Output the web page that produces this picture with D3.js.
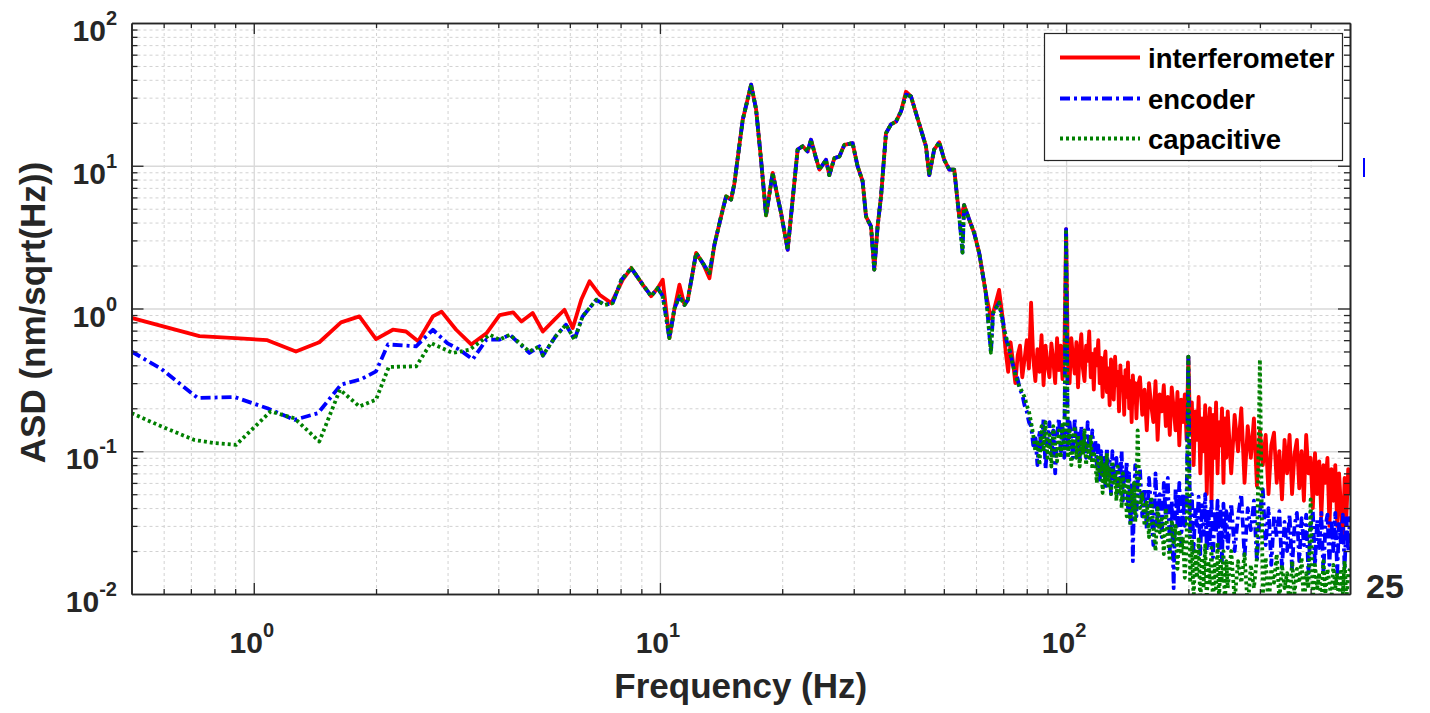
<!DOCTYPE html>
<html>
<head>
<meta charset="utf-8">
<script src="https://cdn.jsdelivr.net/npm/d3@7"></script>
<style>
  html, body { margin: 0; padding: 0; background: #ffffff; }
  svg { display: block; font-family: "Liberation Sans", Arial, Helvetica, sans-serif; font-weight: bold; }
</style>
</head>
<body>
<svg id="chart" width="1430" height="713"></svg>
<script>
// ---------------- series metadata ----------------
const seriesNames  = ["interferometer", "encoder", "capacitive"];
const seriesColors = ["#ff0000", "#0000ff", "#008000"];

// ---------------- low band (0.5 – 9 Hz), per series ----------------
const interfLowF = [0.5, 0.735, 0.9, 1.08, 1.27, 1.45, 1.64, 1.82, 2.0, 2.2, 2.37, 2.54, 2.76, 2.9, 3.15, 3.43, 3.74, 4.03, 4.35, 4.56, 4.86, 5.15, 5.5, 5.82, 6.1, 6.4, 6.71, 7.1, 7.59, 8.1, 8.5, 9.07];
const interfLowV = [0.86, 0.64, 0.62, 0.60, 0.50, 0.58, 0.80, 0.88, 0.61, 0.71, 0.69, 0.59, 0.88, 0.95, 0.71, 0.56, 0.67, 0.90, 0.94, 0.81, 0.93, 0.69, 0.835, 0.98, 0.73, 1.15, 1.55, 1.25, 1.09, 1.59, 1.92, 1.47];

const encLowF = [0.5, 0.59, 0.728, 0.896, 1.08, 1.26, 1.44, 1.64, 1.84, 2.0, 2.14, 2.51, 2.76, 3.0, 3.21, 3.46, 3.74, 4.03, 4.27, 4.77, 5.05, 5.15, 5.54, 5.87, 6.16, 6.45, 6.97, 7.31, 7.65, 8.04, 8.5, 9.07];
const encLowV = [0.50, 0.38, 0.236, 0.24, 0.20, 0.166, 0.185, 0.293, 0.32, 0.363, 0.56, 0.543, 0.71, 0.57, 0.515, 0.44, 0.605, 0.605, 0.655, 0.488, 0.543, 0.467, 0.64, 0.77, 0.605, 0.88, 1.15, 1.06, 1.09, 1.59, 1.92, 1.47];

const capLowF = [0.5, 0.59, 0.714, 0.8, 0.905, 1.1, 1.26, 1.45, 1.63, 1.82, 2.0, 2.15, 2.51, 2.73, 3.09, 3.4, 3.81, 4.03, 4.27, 4.77, 5.05, 5.15, 5.54, 5.87, 6.16, 6.45, 6.97, 7.31, 7.65, 8.04, 8.5, 9.07];
const capLowV = [0.185, 0.15, 0.12, 0.114, 0.111, 0.19, 0.17, 0.117, 0.27, 0.206, 0.23, 0.39, 0.393, 0.573, 0.488, 0.515, 0.655, 0.605, 0.655, 0.50, 0.543, 0.47, 0.64, 0.77, 0.605, 0.88, 1.15, 1.06, 1.09, 1.59, 1.92, 1.47];

// ---------------- resonance band (9 – 68 Hz) ----------------
const midF = [9.33, 9.51, 9.88, 10.16, 10.55, 10.86, 11.17, 11.49, 11.71, 12.28, 12.75, 13.24, 13.62, 14.14, 14.55, 14.97, 15.25, 15.99, 16.77, 17.25, 17.74, 18.25, 18.95, 19.32, 19.87, 20.63, 21.22, 21.83, 22.46, 23.10, 23.55, 24.23, 24.69, 25.64, 26.12, 26.88, 27.65, 28.44, 29.81, 30.67, 31.55, 32.17, 33.09, 33.71, 34.35, 35.02, 36.02, 37.05, 38.12, 39.22, 40.34, 41.50, 42.69, 43.92, 45.18, 46.03, 47.35, 48.72, 50.12, 51.56, 53.04, 54.56, 55.59, 56.1, 57.73, 59.39, 61.1, 63.45, 65.3, 66.1, 68.4];
// encoder and capacitive sensors agree through the resonances
const midSharedV = [1.32, 1.22, 1.39, 1.22, 0.62, 1.0, 1.22, 1.06, 1.15, 2.45, 2.08, 1.77, 2.8, 4.4, 6.1, 5.8, 7.5, 21, 37, 24.8, 11, 4.5, 8.9, 6.8, 4.66, 2.58, 5.8, 13.0, 13.7, 12.6, 15.2, 11.3, 9.4, 11, 8.6, 11.3, 11.6, 14, 14.4, 9.9, 7.8, 4.4, 3.76, 1.87, 3.76, 6.1, 16.9, 19.5, 20.4, 24, 31.5, 30.6, 23.4, 17.9, 13.7, 8.6, 13, 14.6, 11, 9.4, 9.4, 4.4, 2.46, 5.3, 4.2, 3.38, 2.45, 1.28, 0.49, 0.93, 1.1];
const midInterfV = [1.32, 1.22, 1.39, 1.59, 0.62, 1.0, 1.47, 1.06, 1.15, 2.45, 2.08, 1.63, 2.8, 4.4, 6.1, 5.8, 7.5, 21, 37, 24.8, 11, 4.5, 8.9, 6.8, 4.66, 2.58, 5.8, 13.0, 13.7, 12.6, 15.2, 11.3, 9.4, 11, 8.6, 11.3, 11.6, 14, 14.4, 9.9, 7.8, 4.4, 3.76, 1.87, 3.76, 6.1, 16.9, 19.5, 20.4, 24, 33, 30.6, 23.4, 17.9, 13.7, 8.6, 13, 14.6, 11, 9.4, 9.4, 4.4, 4.8, 5.3, 4.2, 3.38, 2.45, 1.28, 0.85, 0.93, 1.35];

// ---------------- noise floor band (70 – 500 Hz) ----------------
const highF = [
  70, 71, 72, 73, 74, 75, 76, 77, 78, 79,
  80, 81, 82, 83, 84, 85, 86, 87, 88, 89,
  90, 91, 92, 93, 94, 95, 96, 97, 98, 99, 100,
  101, 102, 103, 104, 105, 106, 107, 108, 109, 110,
  111, 112, 113, 114, 115, 116, 117, 118, 119, 120,
  121, 122, 123, 124, 125, 126, 127, 128, 129, 130,
  131, 132, 133, 134, 135, 136, 137, 138, 139, 140,
  141, 142, 143, 144, 145, 146, 147, 148, 149, 150,
  152, 154, 156, 158, 160, 162, 164, 166, 168, 170,
  172, 174, 176, 178, 180, 182, 184, 186, 188, 190,
  192, 194, 196, 198, 200, 202, 204, 206, 208, 210,
  212, 214, 216, 218, 220, 222, 224, 226, 228, 230,
  232, 234, 236, 238, 240, 242, 244, 246, 248, 250,
  255, 260, 265, 270, 275, 280, 285, 290, 295, 300,
  305, 310, 315, 320, 325, 330, 335, 340, 345, 350,
  355, 360, 365, 370, 375, 380, 385, 390, 395, 400,
  405, 410, 415, 420, 425, 430, 435, 440, 445, 450,
  455, 460, 465, 470, 475, 480, 485, 490, 495, 500
];
const highInterfV = [
  0.80, 0.50, 0.36, 0.58, 0.42, 0.30, 0.47, 0.55, 0.33, 0.44,
  0.60, 0.38, 1.10, 0.45, 0.31, 0.52, 0.36, 0.65, 0.29, 0.55,
  0.40, 0.33, 0.57, 0.43, 0.30, 0.62, 0.37, 0.55, 0.32, 0.46, 3.6,
  0.42, 0.30, 0.62, 0.45, 0.35, 0.58, 0.28, 0.50, 0.66, 0.38,
  0.31, 0.55, 0.43, 0.69, 0.33, 0.48, 0.27, 0.52, 0.40, 0.60,
  0.30, 0.45, 0.24, 0.41, 0.50, 0.26, 0.38, 0.21, 0.44, 0.32,
  0.23, 0.46, 0.29, 0.36, 0.19, 0.40, 0.27, 0.33, 0.18, 0.37,
  0.24, 0.42, 0.20, 0.31, 0.16, 0.34, 0.25, 0.30, 0.17, 0.28,
  0.33, 0.18, 0.27, 0.14, 0.30, 0.21, 0.16, 0.31, 0.12, 0.25,
  0.19, 0.29, 0.15, 0.24, 0.13, 0.28, 0.20, 0.14, 0.26, 0.11,
  0.23, 0.16, 0.25, 0.12, 0.46, 0.14, 0.22, 0.08, 0.19, 0.12,
  0.24, 0.07, 0.17, 0.10, 0.21, 0.05, 0.15, 0.20, 0.045, 0.18,
  0.09, 0.22, 0.07, 0.16, 0.11, 0.20, 0.06, 0.17, 0.09, 0.19,
  0.07, 0.18, 0.10, 0.20, 0.06, 0.15, 0.09, 0.17, 0.057, 0.14,
  0.08, 0.13, 0.05, 0.11, 0.135, 0.06, 0.10, 0.046, 0.12, 0.07,
  0.13, 0.05, 0.095, 0.12, 0.055, 0.10, 0.045, 0.13, 0.07, 0.09,
  0.04, 0.097, 0.05, 0.085, 0.035, 0.08, 0.06, 0.09, 0.03, 0.075,
  0.045, 0.08, 0.03, 0.07, 0.04, 0.023, 0.065, 0.035, 0.075, 0.05
];
const highEncV = [
  0.80, 0.62, 0.55, 0.48, 0.40, 0.36, 0.32, 0.27, 0.25, 0.21,
  0.19, 0.16, 0.15, 0.11, 0.13, 0.08, 0.14, 0.10, 0.17, 0.075,
  0.12, 0.16, 0.09, 0.14, 0.07, 0.13, 0.17, 0.10, 0.15, 0.09, 3.6,
  0.10, 0.16, 0.12, 0.09, 0.17, 0.11, 0.14, 0.087, 0.15, 0.10,
  0.13, 0.09, 0.16, 0.11, 0.09, 0.14, 0.10, 0.12, 0.08, 0.11,
  0.06, 0.10, 0.07, 0.09, 0.055, 0.105, 0.065, 0.085, 0.05, 0.10,
  0.07, 0.06, 0.09, 0.051, 0.08, 0.065, 0.10, 0.045, 0.075, 0.06,
  0.085, 0.04, 0.07, 0.03, 0.06, 0.017, 0.05, 0.08, 0.035, 0.06,
  0.075, 0.035, 0.055, 0.028, 0.065, 0.04, 0.022, 0.07, 0.03, 0.05,
  0.025, 0.06, 0.035, 0.065, 0.02, 0.045, 0.011, 0.055, 0.03, 0.06,
  0.023, 0.05, 0.03, 0.045, 0.46, 0.025, 0.05, 0.02, 0.04, 0.03,
  0.048, 0.019, 0.042, 0.026, 0.05, 0.02, 0.04, 0.022, 0.047, 0.018,
  0.038, 0.027, 0.045, 0.02, 0.04, 0.017, 0.043, 0.025, 0.038, 0.021,
  0.043, 0.02, 0.035, 0.05, 0.018, 0.04, 0.028, 0.045, 0.017, 0.038,
  0.054, 0.022, 0.04, 0.016, 0.035, 0.025, 0.038, 0.015, 0.032, 0.02,
  0.036, 0.015, 0.03, 0.037, 0.017, 0.034, 0.022, 0.036, 0.014, 0.03,
  0.038, 0.016, 0.033, 0.021, 0.037, 0.014, 0.03, 0.036, 0.016, 0.033,
  0.02, 0.037, 0.014, 0.032, 0.022, 0.036, 0.015, 0.034, 0.02, 0.035
];
const highCapV = [
  0.75, 0.65, 0.56, 0.47, 0.40, 0.34, 0.30, 0.28, 0.26, 0.24,
  0.21, 0.19, 0.16, 0.13, 0.10, 0.12, 0.08, 0.15, 0.10, 0.16,
  0.09, 0.13, 0.078, 0.15, 0.11, 0.085, 0.14, 0.09, 0.16, 0.10, 3.6,
  0.09, 0.14, 0.08, 0.12, 0.15, 0.09, 0.13, 0.078, 0.12, 0.095,
  0.14, 0.08, 0.11, 0.09, 0.13, 0.075, 0.10, 0.085, 0.06, 0.095,
  0.07, 0.09, 0.051, 0.08, 0.06, 0.097, 0.055, 0.075, 0.05, 0.085,
  0.06, 0.07, 0.045, 0.078, 0.05, 0.065, 0.04, 0.07, 0.05, 0.06,
  0.035, 0.065, 0.045, 0.03, 0.055, 0.04, 0.06, 0.032, 0.05, 0.14,
  0.04, 0.05, 0.03, 0.045, 0.025, 0.048, 0.03, 0.02, 0.04, 0.027,
  0.035, 0.019, 0.04, 0.025, 0.017, 0.033, 0.022, 0.03, 0.015, 0.028,
  0.019, 0.025, 0.013, 0.022, 0.46, 0.012, 0.024, 0.009, 0.02, 0.013,
  0.025, 0.008, 0.018, 0.011, 0.022, 0.009, 0.017, 0.012, 0.021, 0.008,
  0.016, 0.011, 0.023, 0.009, 0.018, 0.012, 0.02, 0.008, 0.017, 0.011,
  0.02, 0.009, 0.017, 0.012, 0.019, 0.008, 0.016, 0.011, 0.018, 0.44,
  0.01, 0.018, 0.008, 0.015, 0.012, 0.019, 0.009, 0.016, 0.011, 0.014,
  0.008, 0.017, 0.01, 0.015, 0.012, 0.018, 0.008, 0.014, 0.011, 0.046,
  0.009, 0.016, 0.011, 0.014, 0.008, 0.017, 0.01, 0.015, 0.012, 0.009,
  0.016, 0.011, 0.014, 0.008, 0.015, 0.01, 0.017, 0.009, 0.014, 0.015
];

// ---------------- axis settings ----------------
const xDomain = [0.5, 500];
const yDomain = [0.01, 100];
const xMajor = [1, 10, 100];
const xMajorExp = ["0", "1", "2"];
const yMajor = [0.01, 0.1, 1, 10, 100];
const yMajorExp = ["-2", "-1", "0", "1", "2"];
const xLabel = "Frequency (Hz)";
const yLabel = "ASD (nm/sqrt(Hz))";
const cornerNote = "25";

// ---------------- assemble series ----------------
const zip = (f, v) => f.map((d, i) => [d, v[i]]);
const seriesData = [
  zip(interfLowF, interfLowV).concat(zip(midF, midInterfV), zip(highF, highInterfV)),
  zip(encLowF, encLowV).concat(zip(midF, midSharedV), zip(highF, highEncV)),
  zip(capLowF, capLowV).concat(zip(midF, midSharedV), zip(highF, highCapV))
];
const dashes = [null, "10,4,3,4", "3,3"];
const lineWidth = 3.8;

// ---------------- layout ----------------
const plot = { left: 131.5, right: 1350, top: 23, bottom: 594 };
const svg = d3.select("#chart");
const ink = "#262626";

const x = d3.scaleLog().domain(xDomain).range([plot.left, plot.right]);
const y = d3.scaleLog().domain(yDomain).range([plot.bottom, plot.top]);

const allX = x.ticks().filter(t => t > xDomain[0] && t < xDomain[1]);
const allY = y.ticks().filter(t => t > yDomain[0] && t < yDomain[1]);
const isDecade = t => Math.abs(Math.log10(t) - Math.round(Math.log10(t))) < 1e-9;
const xMinor = allX.filter(t => !isDecade(t));
const yMinor = allY.filter(t => !isDecade(t));
const xMajorIn = xMajor;
const yMajorIn = yMajor.filter(t => t > yDomain[0] && t < yDomain[1]);

const W = plot.right - plot.left, H = plot.bottom - plot.top;

// grid: minor dashed, then major solid
const grid = svg.append("g").attr("class", "grid");
function gridLayer(axis, tr, vals, color, dash, width) {
  const g = grid.append("g").attr("transform", tr)
    .call(axis.tickValues(vals).tickFormat("").tickSizeOuter(0));
  g.select(".domain").remove();
  g.selectAll(".tick line").attr("stroke", color).attr("stroke-width", width)
    .attr("stroke-dasharray", dash);
}
gridLayer(d3.axisBottom(x).tickSize(-H), `translate(0,${plot.bottom})`, xMinor, "#d2d2d2", "3,3", 1);
gridLayer(d3.axisLeft(y).tickSize(-W), `translate(${plot.left},0)`, yMinor, "#d2d2d2", "3,3", 1);
gridLayer(d3.axisBottom(x).tickSize(-H), `translate(0,${plot.bottom})`, xMajorIn, "#d9d9d9", null, 1.3);
gridLayer(d3.axisLeft(y).tickSize(-W), `translate(${plot.left},0)`, yMajorIn, "#d9d9d9", null, 1.3);

// data lines
svg.append("defs").append("clipPath").attr("id", "plotClip")
  .append("rect").attr("x", plot.left).attr("y", plot.top).attr("width", W).attr("height", H);

const line = d3.line().x(d => x(d[0])).y(d => y(d[1]));
const lines = svg.append("g").attr("clip-path", "url(#plotClip)");
seriesData.forEach((data, i) => {
  lines.append("path").datum(data)
    .attr("d", line)
    .attr("fill", "none")
    .attr("stroke", seriesColors[i])
    .attr("stroke-width", lineWidth)
    .attr("stroke-linejoin", "round")
    .attr("stroke-dasharray", dashes[i]);
});

// axes box with inward ticks on all four sides
function tickLayer(axisFn, scale, tr, vals, len) {
  const g = svg.append("g").attr("transform", tr)
    .call(axisFn(scale).tickValues(vals).tickFormat("").tickSize(-len).tickSizeOuter(0));
  g.select(".domain").attr("stroke", ink).attr("stroke-width", 1.6);
  g.selectAll(".tick line").attr("stroke", ink).attr("stroke-width", 1.3);
  return g;
}
[[d3.axisBottom, x, `translate(0,${plot.bottom})`],
 [d3.axisTop, x, `translate(0,${plot.top})`]].forEach(([fn, s, tr]) => {
  tickLayer(fn, s, tr, xMinor, 5);
  tickLayer(fn, s, tr, xMajorIn, 11);
});
[[d3.axisLeft, y, `translate(${plot.left},0)`],
 [d3.axisRight, y, `translate(${plot.right},0)`]].forEach(([fn, s, tr]) => {
  tickLayer(fn, s, tr, yMinor, 6);
  tickLayer(fn, s, tr, yMajorIn, 12);
});

// tick labels (base-10 with superscript exponent)
const tickFont = 30, supFont = 20;
yMajor.forEach((v, i) => {
  const t = svg.append("text")
    .attr("x", 117).attr("y", y(v) + 18)
    .attr("text-anchor", "end").attr("fill", ink)
    .style("font-size", tickFont + "px");
  t.append("tspan").text("10");
  t.append("tspan").attr("dy", -16).style("font-size", supFont + "px").text(yMajorExp[i]);
});
xMajor.forEach((v, i) => {
  const t = svg.append("text")
    .attr("x", x(v) - 2).attr("y", 653)
    .attr("text-anchor", "middle").attr("fill", ink)
    .style("font-size", tickFont + "px");
  t.append("tspan").text("10");
  t.append("tspan").attr("dy", -16).style("font-size", supFont + "px").text(xMajorExp[i]);
});

// axis titles
svg.append("text")
  .attr("x", (plot.left + plot.right) / 2).attr("y", 698)
  .attr("text-anchor", "middle").attr("fill", ink)
  .style("font-size", "35px").text(xLabel);
svg.append("text")
  .attr("transform", `translate(45,${(plot.top + plot.bottom) / 2 + 4}) rotate(-90)`)
  .attr("text-anchor", "middle").attr("fill", ink)
  .style("font-size", "35px").text(yLabel);

// legend
const lg = svg.append("g");
lg.append("rect").attr("x", 1044.5).attr("y", 33.5).attr("width", 298).attr("height", 127)
  .attr("fill", "#ffffff").attr("stroke", ink).attr("stroke-width", 1.2);
const legendRows = [57.5, 98.5, 138.5];
seriesNames.forEach((name, i) => {
  lg.append("line").attr("x1", 1060).attr("x2", 1140)
    .attr("y1", legendRows[i]).attr("y2", legendRows[i])
    .attr("stroke", seriesColors[i]).attr("stroke-width", lineWidth)
    .attr("stroke-dasharray", dashes[i]);
  lg.append("text").attr("x", 1148).attr("y", legendRows[i] + 10)
    .attr("fill", "#000000").style("font-size", "27.5px").text(name);
});

// page artefacts outside the axes
svg.append("line").attr("x1", 1364).attr("x2", 1364).attr("y1", 158).attr("y2", 177)
  .attr("stroke", "#0000ff").attr("stroke-width", 2);
svg.append("text").attr("x", 1366).attr("y", 598).attr("fill", ink)
  .style("font-size", "34px").text(cornerNote);
</script>
</body>
</html>
